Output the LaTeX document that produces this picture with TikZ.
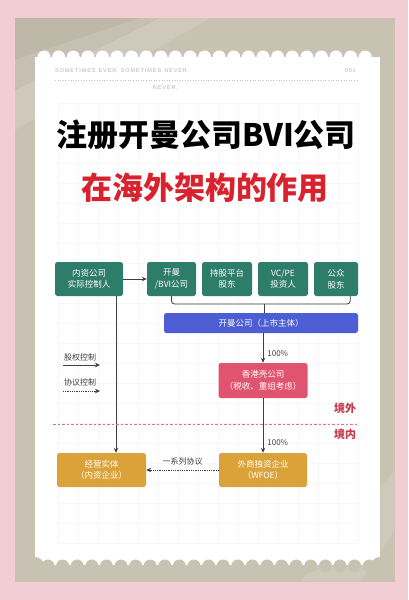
\documentclass[tikz,border=0pt]{standalone}
\usepackage{fontspec}
\newfontfamily\cjk{Noto Sans CJK SC}
\newfontfamily\hdfont{Liberation Sans}
\usetikzlibrary{arrows.meta,positioning,calc}
\definecolor{pinkbg}{HTML}{F2CDD3}
\definecolor{framegrey}{HTML}{C8C2B2}
\definecolor{tealx}{HTML}{2E7C6A}
\definecolor{bluex}{HTML}{4D5DD3}
\definecolor{rosex}{HTML}{E0546F}
\definecolor{goldx}{HTML}{DBA23A}
\definecolor{redx}{HTML}{D8232F}
\definecolor{linex}{HTML}{3F3F3F}
\definecolor{zonex}{HTML}{C63A4C}
\tikzset{
  box/.style={rounded corners=2.5pt,text=white,align=center,inner sep=0pt,
    font=\cjk\fontsize{8.5}{11.5}\selectfont},
  tealbox/.style={box,fill=tealx,minimum height=34},
  bluebox/.style={box,fill=bluex,minimum height=20},
  rosebox/.style={box,fill=rosex,minimum height=35},
  goldbox/.style={box,fill=goldx,minimum height=34},
  ln/.style={linex,line width=0.8pt},
  ar/.style={ln,-{Stealth[length=5pt,width=4.5pt]}},
  dar/.style={ar,densely dotted},
  lbl/.style={font=\cjk\fontsize{8}{10}\selectfont,text=linex,inner sep=1pt},
  zone/.style={font=\cjk\bfseries\fontsize{11}{13}\selectfont,text=zonex,inner sep=0pt},
  hd/.style={font=\hdfont\fontsize{5.5}{7}\selectfont,text=black!30,inner sep=0pt}
}
\begin{document}
\begin{tikzpicture}[x=1pt,y=-1pt]
\useasboundingbox (0,0) rectangle (408,600);
% background and frame
\fill[pinkbg] (0,0) rectangle (408,600);
\fill[framegrey] (15,18) rectangle (395,582);
\fill[black,opacity=0.05] (15,18) -- (160,18) -- (15,90) -- cycle;
\fill[white,opacity=0.12] (15,60) -- (140,18) -- (210,18) -- (15,130) -- cycle;
\fill[white,opacity=0.12] (395,470) -- (300,582) -- (360,582) -- (395,530) -- cycle;
% white card with scalloped edges
\fill[white] (35,57) rectangle (380,565);
\foreach \i in {0,...,22}
  \fill[white] (44+\i*14.6,57) circle (6.5);
\foreach \i in {0,...,22}
  \fill[framegrey] (48+\i*14.6,566) circle (6.5);
\fill[framegrey] (35,566) circle (9) (380,566) circle (9);
% faint grid
\foreach \gx in {58,78,...,358}
  \draw[black!3,line width=0.4pt] (\gx,103) -- (\gx,543);
\foreach \gy in {103,123,...,543}
  \draw[black!3,line width=0.4pt] (58,\gy) -- (358,\gy);
% header
\node[hd,anchor=west] (hdl) at (55,71) {S\,O\,M\,E\,T\,I\,M\,E\,S\ \ E\,V\,E\,R,\ \ S\,O\,M\,E\,T\,I\,M\,E\,S\ \ N\,E\,V\,E\,R.};
\node[hd,anchor=east] (hdr) at (356,71) {0\,0\,1};
\draw[black!25,line width=0.6pt,dotted] (55,80) -- (357,80);
\node[hd] (hdn) at (165,88) {N\,E\,V\,E\,R.};
% titles
\node[font=\cjk\bfseries\fontsize{31}{33}\selectfont,inner sep=0pt] (title) at (206,135) {注册开曼公司BVI公司};
\node[font=\cjk\bfseries\fontsize{31}{33}\selectfont,text=redx,inner sep=0pt] (subtitle) at (205,188) {在海外架构的作用};

% top row
\node[tealbox,minimum width=68] (ctrl) at (89,279) {内资公司\\实际控制人};
\node[tealbox,minimum width=49] (bvi) at (171.5,279) {开曼\\/BVI公司};
\node[tealbox,minimum width=50] (esop) at (227,279) {持股平台\\股东};
\node[tealbox,minimum width=50] (vcpe) at (283,279) {VC/PE\\投资人};
\node[tealbox,minimum width=44] (pub) at (336,279) {公众\\股东};
% listed company and below
\node[bluebox,minimum width=194] (cay) at (261,323) {开曼公司（上市主体）};
\node[rosebox,minimum width=89] (hk) at (263,380.5) {香港壳公司\\（税收、重组考虑）};
\node[goldbox,minimum width=88] (wfoe) at (263,470) {外商独资企业\\（WFOE）};
\node[goldbox,minimum width=89] (opco) at (101.5,470) {经营实体\\（内资企业）};

\draw[ar] (ctrl) -- (bvi);
\coordinate (hub) at (264,304);
\coordinate (pubend) at ([xshift=-8]pub.south east);
\draw[ln,rounded corners=3pt] (bvi.south) |- (hub) -| (pubend);
\draw[ln] (hub) -- (hub |- cay.north);
\draw[ar] (hk.north |- cay.south) -- (hk.north) node[lbl,pos=0.7,right=3pt] {100\%};
\draw[ar] (hk.south) -- (wfoe.north) node[lbl,pos=0.82,right=3pt] {100\%};
\draw[ar] ([xshift=27]ctrl.south) -- ([xshift=27]ctrl.south |- opco.north);
\draw[dar] (wfoe.west) -- (opco.east) node[lbl,midway,above=3pt] {一系列协议};

% legend
\node[lbl] (eqlbl) at (80,357) {股权控制};
\coordinate (eqa) at (63,365);
\coordinate (eqb) at (100,365);
\draw[ar] (eqa) -- (eqb);
\node[lbl] (agrlbl) at (80,382) {协议控制};
\coordinate (agra) at (63,391);
\coordinate (agrb) at (100,391);
\draw[dar] (agra) -- (agrb);

% border line
\coordinate (bdl) at (53,424);
\coordinate (bdr) at (358,424);
\draw[zonex!70,line width=0.8pt,dash pattern=on 2.5pt off 2pt] (bdl) -- (bdr);
\node[zone] (out) at (345,408) {境外};
\node[zone] (in) at (345,434) {境内};
\end{tikzpicture}
\end{document}
